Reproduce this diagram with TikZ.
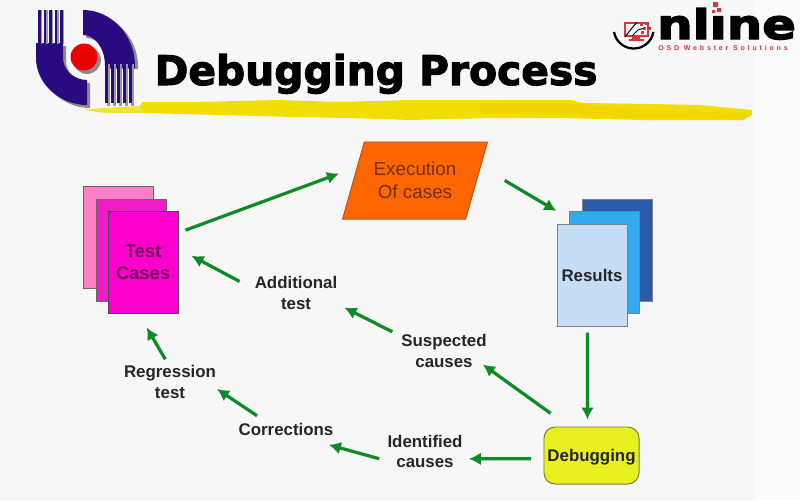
\documentclass[tikz,border=0pt]{standalone}
\usepackage{xcolor}
\usepackage{fontspec}
\setmainfont{Liberation Sans}
\newfontfamily\titlefont[FakeBold=2.6]{DejaVu Sans}
\newfontfamily\onlinefont[FakeStretch=1.22,FakeBold=3.5]{DejaVu Sans}
\newfontfamily\webfont[LetterSpace=40]{Liberation Sans}
\usepackage{tikz}
\usetikzlibrary{arrows.meta, positioning, calc, shapes.geometric}

\definecolor{paper}{HTML}{F7F7F7}
\definecolor{arrowgreen}{HTML}{0E8A26}
\definecolor{logoblue}{HTML}{2A0A80}
\definecolor{brush}{HTML}{F0DE06}
\definecolor{logored}{HTML}{D4373F}

\tikzset{
	pagebox/.style={draw, line width=0.7pt, minimum width=1.75cm, minimum height=2.525cm, inner sep=0pt},
	steptext/.style={font=\fontsize{12}{14.4}\selectfont\bfseries, text=black!85, align=center, inner sep=0pt},
	flowarrow/.style={-{Latex[length=8.5pt,width=9pt]}, line width=2.3pt, arrowgreen}
}

\begin{document}
\begin{tikzpicture}[x=0.025cm, y=-0.025cm]
	\fill[paper] (0,0) rectangle (800,500);
	\fill[white!50!paper] (755,0) rectangle (800,500);

	% Yellow brush stroke under the title
	\fill[brush!80!paper] (83,110) -- (103,108) -- (140,106) -- (143,113) -- (105,113) -- cycle;
	\fill[brush] (140,106) -- (142,102) -- (200,102) -- (277,100) -- (340,102) -- (410,100) -- (570,100) -- (583,103) -- (650,104) -- (700,105) -- (752,110) -- (752,115) -- (743,120) -- (643,120) -- (560,118) -- (493,118) -- (410,120) -- (350,118) -- (293,117) -- (220,115) -- (143,113) -- cycle;
	\fill[brush!90!orange] (480,104) -- (570,103) -- (640,110) -- (745,113) -- (745,119) -- (640,118) -- (560,115) -- (480,114) -- cycle;

	% Title
	\node[font=\titlefont\bfseries\fontsize{29}{30}\selectfont, anchor=base, text=black] (title) at (376,85) {Debugging Process};

	% Left half of the emblem
	\fill[black!45] (39,46) -- (39,60) .. controls (39,85) and (62,108) .. (90,108) -- (90,83) .. controls (76,83) and (66,73) .. (66,60) -- (66,46) -- cycle;
	\fill[logoblue] (36,43) -- (36,58) .. controls (36,84) and (60,105) .. (87,105) -- (87,80) .. controls (74,80) and (63,70) .. (63,58) -- (63,43) -- cycle;
	\foreach \i in {38,43.5,49,54.5,60} {
		\fill[black!40] (\i+2,10) rectangle (\i+4,44);
		\fill[logoblue] (\i,10) rectangle (\i+2.6,44);
	}
	% Right half of the emblem
	\fill[black!45] (86,13) .. controls (115,13) and (138,38) .. (138,66) -- (138,69) -- (108,69) -- (108,66) .. controls (108,50) and (98,38) .. (86,38) -- cycle;
	\fill[logoblue] (83,10) .. controls (112,10) and (135,36) .. (135,66) -- (135,68) -- (105,68) -- (105,66) .. controls (105,48) and (95,35) .. (83,35) -- cycle;
	\foreach \i in {105,111,117,123,129} {
		\fill[black!40] (\i+2,64) rectangle (\i+5,106);
		\fill[logoblue] (\i,64) rectangle (\i+3,103);
	}
	\fill[white] (85,58) circle[radius=17];
	\fill[black!45] (87,60) circle[radius=14];
	\fill[red!92!black] (84,57) circle[radius=13.5];

	% Online badge
	\draw[line width=1.6pt, black] (614,32) arc[start angle=170, end angle=10, radius=20];
	\draw[logored, line width=0.9pt] (625,23) rectangle (648,36);
	\fill[logored] (632,37) rectangle (640,39) (629,39) rectangle (644,41);
	\draw[black, line width=0.7pt] (625,37) -- (632,28) -- (637,22) (632,36) -- (638,30) -- (645,28);
	\foreach \a/\b in {640/23,645/22,643/27,648/27,641/31} {
		\fill[logored] (\a,\b) rectangle (\a+3,\b+3);
	}
	\node[font=\onlinefont\bfseries\fontsize{29}{30}\selectfont, anchor=base west, inner sep=0pt] (online) at (657,39) {nl\i ne};
	\fill[logored] (713,2) rectangle (718,7) (717,8) rectangle (721,12) (712,10) rectangle (715,13);
	\node[font=\webfont\bfseries\fontsize{5}{6}\selectfont, text=logored, anchor=base west, inner sep=0pt] (webster) at (658,50.5) {OSD Webster Solutions};

	% Test cases stack
	\node[pagebox, fill={rgb,255:red,255;green,128;blue,200}, draw=black!60] (casesback) at (118,237.5) {};
	\node[pagebox, fill={rgb,255:red,240;green,28;blue,200}, draw=black!60] (casesmid) at (131,250.5) {};
	\node[pagebox, fill={rgb,255:red,255;green,0;blue,204}, draw=black!70, font=\fontsize{13}{16}\selectfont\bfseries, text={rgb,255:red,110;green,0;blue,90}, align=center] (casesfront) at (143,262.5) {Test\\Cases};

	% Execution box
	\node[trapezium, trapezium left angle=64.3, trapezium right angle=115.7, trapezium stretches=true, draw={rgb,255:red,190;green,85;blue,20}, line width=0.7pt, fill={rgb,255:red,255;green,102;blue,0}, minimum width=3.65cm, minimum height=1.925cm, inner sep=0pt, font=\fontsize{13.4}{16.4}\selectfont, text={rgb,255:red,115;green,50;blue,10}, align=center] (execution) at (415,180.5) {Execution\\Of cases};

	% Results stack
	\node[pagebox, fill={rgb,255:red,42;green,90;blue,168}, draw=black!50] (resultsback) at (617,250.5) {};
	\node[pagebox, fill={rgb,255:red,51;green,170;blue,238}, draw=black!50] (resultsmid) at (604,262.5) {};
	\node[pagebox, fill={rgb,255:red,197;green,221;blue,245}, draw=black!50, steptext, inner sep=0pt] (resultsfront) at (592,275.5) {Results};

	% Debugging box
	\node[draw={rgb,255:red,120;green,125;blue,50}, line width=0.7pt, rounded corners=8pt, fill={rgb,255:red,232;green,240;blue,32}, minimum width=2.375cm, minimum height=1.425cm, steptext, text height=12pt, text depth=3pt] (debugging) at (591.5,455.5) {Debugging};

	% Labels
	\node[steptext] (additional) at (296,293) {Additional\\test};
	\node[steptext] (suspected) at (444,351) {Suspected\\causes};
	\node[steptext] (identified) at (425,451.5) {Identified\\causes};
	\node[steptext] (corrections) at (286,429) {Corrections};
	\node[steptext] (regression) at (170,382) {Regression\\test};

	% Flow
	\draw[flowarrow, shorten <=5.3pt, shorten >=13.5pt] (casesfront.40) -- (execution.167);
	\draw[flowarrow, shorten <=19.5pt, shorten >=19pt] (execution.12) -- (resultsfront.104);
	\draw[flowarrow, shorten <=4.3pt, shorten >=5pt] (resultsfront.265.5) -- (debugging.98);
	\draw[flowarrow, shorten <=16pt, shorten >=-3.6pt] (debugging.128) -- (suspected.339);
	\draw[flowarrow, shorten <=7pt, shorten >=5.6pt] (suspected.161) -- (additional.345);
	\draw[flowarrow, shorten <=12pt, shorten >=10.5pt] (additional.175) -- (casesfront.21);
	\draw[flowarrow, shorten <=9pt, shorten >=4.3pt] (debugging.184) -- (identified.349.5);
	\draw[flowarrow, shorten <=5.9pt, shorten >=25pt] (identified.194) -- (corrections.324);
	\draw[flowarrow, shorten <=8.7pt, shorten >=0.7pt] (corrections.161) -- (regression.352);
	\draw[flowarrow, shorten <=5pt, shorten >=11.6pt] (regression.94) -- (casesfront.265);
\end{tikzpicture}
\end{document}
